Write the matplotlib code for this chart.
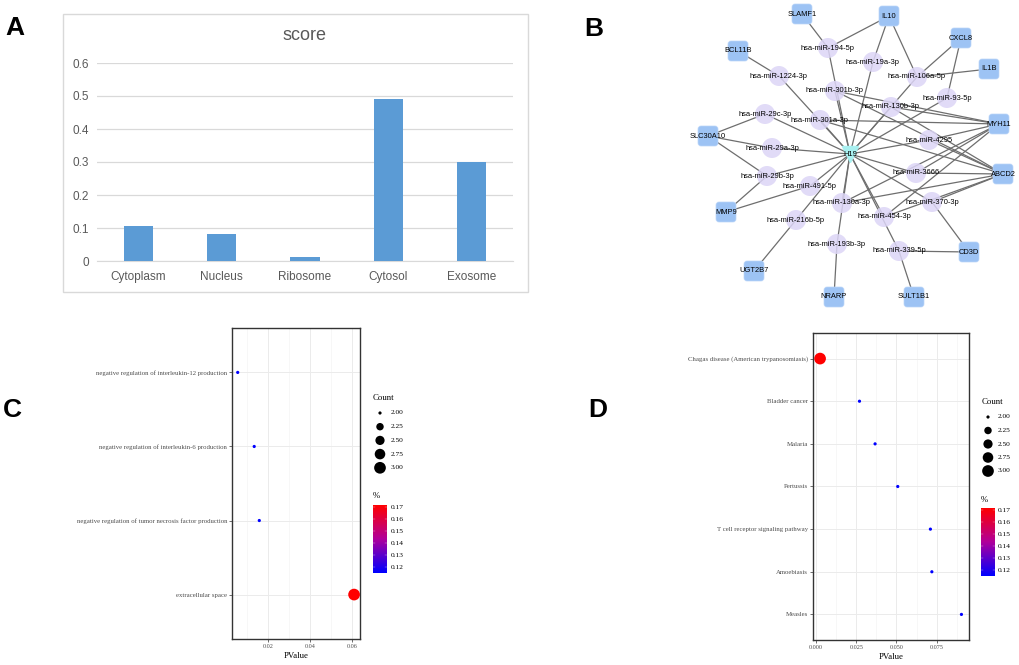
import numpy as np
import matplotlib
matplotlib.use("Agg")
import matplotlib.pyplot as plt
from matplotlib.patches import Circle, FancyBboxPatch, Rectangle
from matplotlib.colors import LinearSegmentedColormap, Normalize

# ---------------------------------------------
# DATA
# ---------------------------------------------

# A: subcellular localisation score
locations = ["Cytoplasm", "Nucleus", "Ribosome", "Cytosol", "Exosome"]
scores = [0.106, 0.082, 0.013, 0.490, 0.301]

# B: ceRNA network (layout, pixel coords)
hub_name = "H19"
hub_pos = (850, 154)
genes = {
    "SLAMF1": (802, 14), "IL10": (889, 16), "BCL11B": (738, 51),
    "CXCL8": (961, 38), "IL1B": (989, 69), "MYH11": (999, 124),
    "SLC30A10": (708, 136), "ABCD2": (1003, 174), "MMP9": (726, 212),
    "CD3D": (969, 252), "UGT2B7": (754, 271), "NRARP": (834, 297),
    "SULT1B1": (914, 297),
}
mirnas = {
    "hsa-miR-194-5p": (828, 48), "hsa-miR-19a-3p": (873, 62),
    "hsa-miR-1224-3p": (779, 76), "hsa-miR-106a-5p": (917, 77),
    "hsa-miR-301b-3p": (835, 91), "hsa-miR-93-5p": (947, 98),
    "hsa-miR-130b-3p": (891, 107), "hsa-miR-29c-3p": (765, 114),
    "hsa-miR-301a-3p": (820, 120), "hsa-miR-4295": (929, 140),
    "hsa-miR-29a-3p": (772, 148), "hsa-miR-29b-3p": (767, 176),
    "hsa-miR-3666": (916, 173), "hsa-miR-491-5p": (810, 186),
    "hsa-miR-130a-3p": (842, 203), "hsa-miR-370-3p": (932, 202),
    "hsa-miR-216b-5p": (796, 220), "hsa-miR-454-3p": (884, 217),
    "hsa-miR-193b-3p": (837, 244), "hsa-miR-339-5p": (899, 251),
}
edges = [
    ("hsa-miR-194-5p", "SLAMF1"), ("hsa-miR-194-5p", "IL10"),
    ("hsa-miR-19a-3p", "IL10"),
    ("hsa-miR-106a-5p", "IL10"), ("hsa-miR-106a-5p", "CXCL8"), ("hsa-miR-106a-5p", "IL1B"),
    ("hsa-miR-93-5p", "CXCL8"),
    ("hsa-miR-1224-3p", "BCL11B"),
    ("hsa-miR-301b-3p", "MYH11"), ("hsa-miR-301b-3p", "ABCD2"),
    ("hsa-miR-130b-3p", "MYH11"), ("hsa-miR-130b-3p", "ABCD2"),
    ("hsa-miR-301a-3p", "MYH11"), ("hsa-miR-301a-3p", "ABCD2"),
    ("hsa-miR-29c-3p", "SLC30A10"), ("hsa-miR-29a-3p", "SLC30A10"),
    ("hsa-miR-29b-3p", "SLC30A10"), ("hsa-miR-29b-3p", "MMP9"),
    ("hsa-miR-491-5p", "MMP9"),
    ("hsa-miR-4295", "MYH11"), ("hsa-miR-4295", "ABCD2"),
    ("hsa-miR-3666", "MYH11"), ("hsa-miR-3666", "ABCD2"),
    ("hsa-miR-130a-3p", "MYH11"), ("hsa-miR-130a-3p", "ABCD2"),
    ("hsa-miR-370-3p", "ABCD2"), ("hsa-miR-370-3p", "CD3D"),
    ("hsa-miR-454-3p", "MYH11"), ("hsa-miR-454-3p", "ABCD2"),
    ("hsa-miR-216b-5p", "UGT2B7"), ("hsa-miR-193b-3p", "NRARP"),
    ("hsa-miR-339-5p", "CD3D"), ("hsa-miR-339-5p", "SULT1B1"),
]

# C: GO enrichment
go_terms = ["negative regulation of interleukin-12 production",
            "negative regulation of interleukin-6 production",
            "negative regulation of tumor necrosis factor production",
            "extracellular space"]
go_pvalue = [0.0058, 0.0136, 0.0160, 0.0608]
go_count = [2, 2, 2, 3]
go_pct = [0.115, 0.115, 0.115, 0.172]

# D: KEGG enrichment
kegg_terms = ["Chagas disease (American trypanosomiasis)", "Bladder cancer", "Malaria",
              "Pertussis", "T cell receptor signaling pathway", "Amoebiasis", "Measles"]
kegg_pvalue = [0.0025, 0.0270, 0.0367, 0.0508, 0.0711, 0.0720, 0.0904]
kegg_count = [3, 2, 2, 2, 2, 2, 2]
kegg_pct = [0.172, 0.115, 0.115, 0.115, 0.115, 0.115, 0.115]

count_breaks = [2.00, 2.25, 2.50, 2.75, 3.00]
pct_breaks = [0.12, 0.13, 0.14, 0.15, 0.16, 0.17]

# ---------------------------------------------
# FIGURE
# ---------------------------------------------

W, H = 1020, 665
fig = plt.figure(figsize=(W / 100, H / 100), dpi=100)
SANS = "Liberation Sans"
SERIF = "Liberation Serif"


def px_axes(l, t, r, b):
    return fig.add_axes([l / W, 1 - b / H, (r - l) / W, (b - t) / H])


def panel_label(x, y, s):
    fig.text(x / W, 1 - y / H, s, fontsize=19, fontweight="bold",
             family=SANS, ha="center", va="center")


# ---------------- A ----------------
fig.patches.append(Rectangle((63 / W, 1 - 292 / H), (528 - 63) / W, (292 - 14) / H,
                             fill=False, edgecolor="#D9D9D9", lw=1,
                             transform=fig.transFigure))
axA = px_axes(97, 63, 513, 261)
axA.bar(range(len(locations)), scores, width=0.35, color="#5B9BD5", zorder=3)
axA.set_xlim(-0.5, len(locations) - 0.5)
axA.set_ylim(0, 0.6)
yt = [0, 0.1, 0.2, 0.3, 0.4, 0.5, 0.6]
axA.set_yticks(yt)
axA.set_yticklabels(["0"] + [f"{v:.1f}" for v in yt[1:]])
axA.set_xticks(range(len(locations)))
axA.set_xticklabels(locations)
axA.yaxis.grid(True, color="#D9D9D9", lw=0.9)
axA.set_axisbelow(True)
for s in ["top", "left", "right"]:
    axA.spines[s].set_visible(False)
axA.spines["bottom"].set_color("#D9D9D9")
axA.tick_params(length=0, labelcolor="#595959", labelsize=8.5)
axA.tick_params(axis="y", pad=6)
axA.tick_params(axis="x", pad=7)
for t in axA.get_xticklabels() + axA.get_yticklabels():
    t.set_family(SANS)
fig.text(305 / W, 1 - 36 / H, "score", fontsize=13, color="#595959",
         family=SANS, ha="center", va="center")

# ---------------- B ----------------
axB = px_axes(680, 0, 1020, 310)
axB.set_xlim(680, 1020)
axB.set_ylim(310, 0)
axB.axis("off")

for m, (x, y) in mirnas.items():
    axB.plot([hub_pos[0], x], [hub_pos[1], y], color="#6E6E6E", lw=0.9, zorder=1)
for m, g in edges:
    (x1, y1), (x2, y2) = mirnas[m], genes[g]
    axB.plot([x1, x2], [y1, y2], color="#6E6E6E", lw=0.9, zorder=1)

for m, (x, y) in mirnas.items():
    axB.add_patch(Circle((x, y), 10, fc="#DCD5F6", ec="none", alpha=0.85, zorder=2))
    axB.text(x, y, m, fontsize=5.4, family=SANS, ha="center", va="center", zorder=5)
for g, (x, y) in genes.items():
    axB.add_patch(FancyBboxPatch((x - 10, y - 10), 20, 20,
                                 boxstyle="round,pad=0,rounding_size=3",
                                 fc="#9DC3F4", ec="#BBD5F8", lw=0.5, zorder=3))
    axB.text(x, y, g, fontsize=5.4, family=SANS, ha="center", va="center", zorder=5)
axB.plot(*hub_pos, marker="v", ms=11, color="#A8F0F0", zorder=4)
axB.text(*hub_pos, hub_name, fontsize=5.4, family=SANS, ha="center", va="center", zorder=5)

# ---------------- C / D ----------------
cmap = LinearSegmentedColormap.from_list("bp", ["#0000FF", "#B0009B", "#FF0000"])
all_pct = go_pct + kegg_pct
norm = Normalize(min(all_pct), max(all_pct))
MIN_D, MAX_D = 3.2, 11.7  # px diameters of the smallest / largest point


def diam_px(c):
    t = (np.asarray(c, float) - 2.0) / 1.0
    return MIN_D + (MAX_D - MIN_D) * np.sqrt(t)


def dot_panel(box, cats, pv, cnt, pct, xlim, xticks, xlabels, minor, ylab_fs, leg):
    ax = px_axes(*box)
    n = len(cats)
    y = np.arange(n)[::-1]
    ax.scatter(pv, y, s=(diam_px(cnt) * 0.72) ** 2, c=cmap(norm(pct)),
               edgecolors="none", zorder=3, clip_on=False)
    ax.set_xlim(*xlim)
    ax.set_ylim(-0.6, n - 1 + 0.6)
    ax.set_yticks(y)
    ax.set_yticklabels(cats)
    ax.set_xticks(xticks)
    ax.set_xticklabels(xlabels)
    ax.set_xticks(minor, minor=True)
    ax.grid(True, which="major", color="#EBEBEB", lw=0.7)
    ax.grid(True, which="minor", axis="x", color="#F2F2F2", lw=0.4)
    ax.set_axisbelow(True)
    for s in ax.spines.values():
        s.set_color("#333333")
        s.set_linewidth(1.0)
    ax.tick_params(which="major", length=2, width=0.5, color="#333333",
                   labelcolor="#4D4D4D", pad=1.5)
    ax.tick_params(which="minor", length=0)
    ax.tick_params(axis="x", labelsize=4.4)
    ax.tick_params(axis="y", labelsize=ylab_fs)
    for t in ax.get_xticklabels() + ax.get_yticklabels():
        t.set_family(SERIF)
    ax.set_xlabel("PValue", fontsize=6.3, family=SERIF, labelpad=2)

    # legends, drawn in pixel coords
    tx, ty, dx, dy0, dstep, lx, px_, py, cb = leg
    lg = px_axes(tx - 5, ty - 10, tx + 60, cb[3] + 10)
    lg.set_xlim(tx - 5, tx + 60)
    lg.set_ylim(cb[3] + 10, ty - 10)
    lg.axis("off")
    lg.text(tx, ty, "Count", fontsize=6.3, family=SERIF, va="center")
    for k, c in enumerate(count_breaks):
        yy = dy0 + k * dstep
        lg.scatter([dx], [yy], s=(diam_px(c) * 0.72) ** 2, color="black",
                   edgecolors="none", clip_on=False)
        lg.text(lx, yy, f"{c:.2f}", fontsize=5.3, family=SERIF, va="center")
    lg.text(px_, py, "%", fontsize=6.3, family=SERIF, va="center")
    x0, y0, x1, y1 = cb
    grad = np.linspace(0, 1, 128).reshape(-1, 1)
    lg.imshow(grad, cmap=cmap, origin="lower", aspect="auto",
              extent=(x0, x1, y1, y0), zorder=1)
    for v in pct_breaks:
        yy = y1 - (v - norm.vmin) / (norm.vmax - norm.vmin) * (y1 - y0)
        lg.plot([x0, x0 + 1.8], [yy, yy], color="white", lw=0.3, alpha=0.7, zorder=2)
        lg.plot([x1 - 1.8, x1], [yy, yy], color="white", lw=0.3, alpha=0.7, zorder=2)
        lg.text(lx, yy, f"{v:.2f}", fontsize=5.3, family=SERIF, va="center")
    return ax


dot_panel((232, 328, 360, 639), go_terms, go_pvalue, go_count, go_pct,
          (0.0031, 0.0636), [0.02, 0.04, 0.06], ["0.02", "0.04", "0.06"],
          [0.01, 0.03, 0.05], 4.9,
          (373, 398, 380, 413, 13.7, 391, 373, 496, (373, 505, 387, 573)))

dot_panel((813, 333, 969, 640), kegg_terms, kegg_pvalue, kegg_count, kegg_pct,
          (-0.0019, 0.0951), [0.0, 0.025, 0.05, 0.075],
          ["0.000", "0.025", "0.050", "0.075"], [0.0125, 0.0375, 0.0625, 0.0875], 4.9,
          (982, 402, 988, 417, 13.5, 998, 981, 500, (981, 508, 995, 576)))

panel_label(15, 28, "A")
panel_label(594, 29, "B")
panel_label(12, 410, "C")
panel_label(598, 410, "D")

fig.savefig("out.png", dpi=100)
